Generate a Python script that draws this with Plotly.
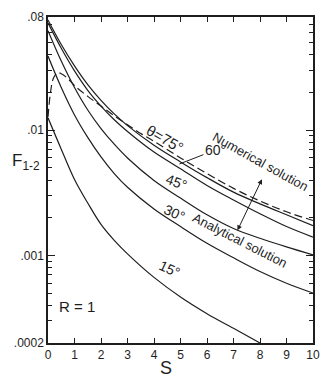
import plotly.graph_objects as go
import math

# Dimensionless spacing S
s_analytic = [0, 0.5, 1, 1.5, 2, 2.5, 3, 4, 5, 6, 7, 8, 9, 10]
s_15 = [0, 0.5, 1, 1.5, 2, 2.5, 3, 4, 5, 6, 7, 8]
s_numeric = [0, 0.1, 0.2, 0.35, 0.5, 0.75, 1, 1.5, 2, 2.5, 3, 3.5, 4, 5, 6, 7, 8, 9, 10]

# View factor F1-2, analytical solution, R = 1
f_75 = [0.0758, 0.0483, 0.0326, 0.0231, 0.0173, 0.01348, 0.01086, 0.00758,
        0.00558, 0.00418, 0.00320, 0.00258, 0.00211, 0.00173]
f_60 = [0.0718, 0.0450, 0.0297, 0.0208, 0.01556, 0.01210, 0.00975, 0.00668,
        0.00492, 0.00362, 0.00277, 0.00215, 0.00170, 0.00140]
f_45 = [0.0622, 0.0356, 0.0219, 0.01448, 0.01029, 0.00772, 0.00600, 0.00397,
        0.00287, 0.00211, 0.00164, 0.00137, 0.00117, 0.00101]
f_30 = [0.0390, 0.0219, 0.01323, 0.00875, 0.00611, 0.00450, 0.00350, 0.00235,
        0.00170, 0.00125, 0.000957, 0.000744, 0.000600, 0.000501]
f_15 = [0.01254, 0.00705, 0.00404, 0.00262, 0.00177, 0.00132, 0.00103,
        0.000668, 0.000466, 0.000343, 0.000262, 0.000200]

# Numerical solution
f_num = [0.01277, 0.0204, 0.0258, 0.0287, 0.0282, 0.0258, 0.0227, 0.0186,
         0.01556, 0.01300, 0.01105, 0.00940, 0.00814, 0.00600, 0.00450,
         0.00343, 0.00272, 0.00223, 0.00190]

x_ticks = list(range(0, 11))
y_tickvals = [0.0002, 0.001, 0.01, 0.08]
y_ticktext = [".0002", ".001", ".01", ".08"]
y_minor = [m * 10 ** e for e in (-4, -3, -2) for m in range(2, 10)
           if 0.0002 <= m * 10 ** e <= 0.08]

INK = "#1e1e1e"
FONT = "Liberation Sans"

fig = go.Figure()
for s, f in [(s_analytic, f_75), (s_analytic, f_60), (s_analytic, f_45),
             (s_analytic, f_30), (s_15, f_15)]:
    fig.add_trace(go.Scatter(x=s, y=f, mode="lines",
                             line=dict(color=INK, width=1.2, shape="spline"),
                             showlegend=False, hoverinfo="skip"))
fig.add_trace(go.Scatter(x=s_numeric, y=f_num, mode="lines",
                         line=dict(color=INK, width=1.2, shape="spline",
                                   dash="8px,4px"),
                         showlegend=False, hoverinfo="skip"))

axis_common = dict(showline=True, linecolor=INK, linewidth=1.5, mirror="ticks",
                   ticks="inside", tickcolor=INK, showgrid=False, zeroline=False,
                   tickfont=dict(family=FONT, size=12, color=INK))

fig.update_xaxes(range=[0, 10], tickvals=x_ticks, ticklen=5, tickwidth=1.2,
                 **axis_common)
fig.update_yaxes(type="log", range=[math.log10(0.0002), math.log10(0.08)],
                 tickvals=y_tickvals, ticktext=y_ticktext, ticklen=7,
                 tickwidth=1.2,
                 minor=dict(tickvals=y_minor, ticks="inside", ticklen=4,
                            tickcolor=INK, tickwidth=1),
                 **axis_common)


def lbl(text, s, logf, angle=0, size=12, **kw):
    fig.add_annotation(x=s, y=logf, xref="x", yref="y", text=text,
                       showarrow=kw.pop("showarrow", False), textangle=angle,
                       font=dict(family=FONT, size=size, color=INK), **kw)


lbl("θ=75°", 4.4, -2.07, angle=30, size=15)
# 60° label with a leader line down to its curve
lbl("60°", 4.96, -2.27, size=14, showarrow=True, arrowhead=0,
    arrowwidth=1, arrowcolor=INK, ax=36, ay=-14, standoff=0)
lbl("45°", 4.85, -2.41, angle=20, size=14)
lbl("30°", 4.78, -2.66, angle=25, size=14)
lbl("Analytical solution", 7.25, -2.88, angle=27, size=13)
lbl("Numerical solution", 8.0, -2.25, angle=29, size=13)
lbl("15°", 4.6, -3.11, angle=25, size=14)
lbl("R = 1", 1.1, -3.41, size=15)

# double-headed pointer between the two solution labels
fig.add_annotation(x=7.15, y=-2.80, ax=8.1, ay=-2.38, xref="x", yref="y",
                   axref="x", ayref="y", showarrow=True, arrowhead=2,
                   startarrowhead=2, arrowside="end+start", arrowwidth=1,
                   arrowsize=1, arrowcolor=INK, text="")

fig.add_annotation(x=0.447, y=-0.077, xref="paper", yref="paper", text="S",
                   xanchor="center", yanchor="middle",
                   showarrow=False, font=dict(family=FONT, size=18, color=INK))
fig.add_annotation(x=-0.083, y=0.556, xref="paper", yref="paper",
                   text="F<sub>1-2</sub>", showarrow=False,
                   xanchor="center", yanchor="middle",
                   font=dict(family=FONT, size=17, color=INK))

fig.update_layout(width=330, height=379, margin=dict(l=48, r=16, t=10, b=36),
                  paper_bgcolor="white", plot_bgcolor="white")

fig.write_html("out.html")
